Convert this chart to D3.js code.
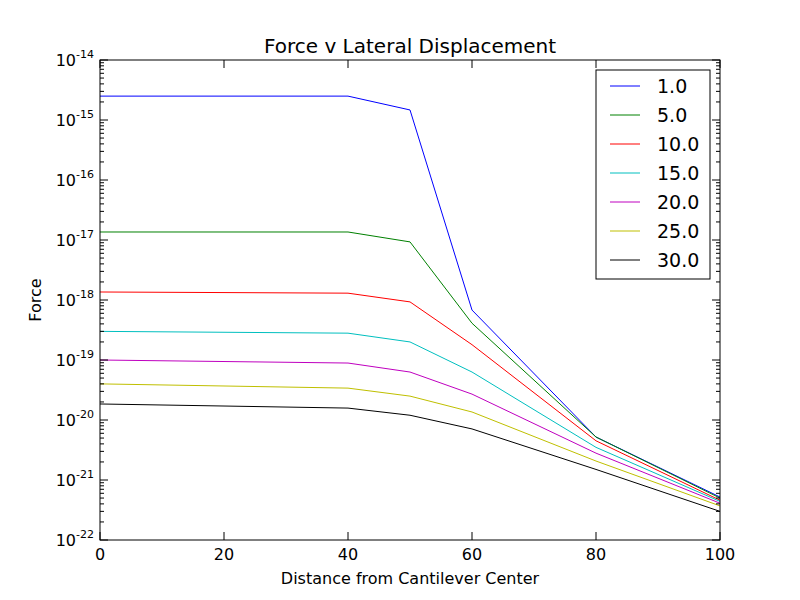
<!DOCTYPE html>
<html><head><meta charset="utf-8">
<script src="https://cdn.jsdelivr.net/npm/d3@7"></script>
<style>body{margin:0;background:#fff}text{font-family:"DejaVu Sans",sans-serif}</style>
</head><body><svg id="c" width="800" height="600"></svg>
<script>
const xs=[0,40,50,60,80,100];
const labels=["1.0","5.0","10.0","15.0","20.0","25.0","30.0"];
const colors=["#0000ff","#008000","#ff0000","#00bfbf","#bf00bf","#bfbf00","#000000"];
const s1=[2.5e-15,2.5e-15,1.47e-15,6.8e-19,5.2e-21,5.2e-22];
const s5=[1.36e-17,1.36e-17,9.3e-18,4.1e-19,5.2e-21,5.0e-22];
const s10=[1.36e-18,1.3e-18,9.3e-19,1.8e-19,4.5e-21,4.6e-22];
const s15=[3.0e-19,2.8e-19,2.0e-19,6.3e-20,3.5e-21,4.4e-22];
const s20=[1.0e-19,8.9e-20,6.3e-20,2.7e-20,2.8e-21,4.1e-22];
const s25=[4.0e-20,3.4e-20,2.5e-20,1.36e-20,2.07e-21,3.7e-22];
const s30=[1.85e-20,1.58e-20,1.2e-20,7.1e-21,1.5e-21,3.0e-22];
const series=[s1,s5,s10,s15,s20,s25,s30];
const xTicks=[0,20,40,60,80,100];
const yExp=[-22,-21,-20,-19,-18,-17,-16,-15,-14];

const svg=d3.select("#c");
const L=100,R=720,T=60,B=540;
const x=d3.scaleLinear().domain([0,100]).range([L,R]);
const y=d3.scaleLog().domain([1e-22,1e-14]).range([B,T]);
const g=svg.append("g");
const line=d3.line().x((d,i)=>x(xs[i])).y(d=>y(d));
series.forEach((s,k)=>g.append("path").attr("d",line(s)).attr("fill","none").attr("stroke",colors[k]).attr("stroke-width",1));
xTicks.forEach(t=>{
  g.append("line").attr("x1",x(t)).attr("x2",x(t)).attr("y1",B).attr("y2",B-8).attr("stroke","#000");
  g.append("line").attr("x1",x(t)).attr("x2",x(t)).attr("y1",T).attr("y2",T+8).attr("stroke","#000");
  g.append("text").attr("x",x(t)).attr("y",B+20).attr("text-anchor","middle").attr("font-size",16).text(t);
});
yExp.forEach(e=>{
  const yy=y(Math.pow(10,e));
  g.append("line").attr("x1",L).attr("x2",L+8).attr("y1",yy).attr("y2",yy).attr("stroke","#000");
  g.append("line").attr("x1",R).attr("x2",R-8).attr("y1",yy).attr("y2",yy).attr("stroke","#000");
  const t=g.append("text").attr("x",L-6).attr("y",yy+6).attr("text-anchor","end").attr("font-size",16);
  t.append("tspan").text("10");
  t.append("tspan").attr("dy",-8).attr("font-size",11).text(e);
  if(e<-14) for(let m=2;m<10;m++){
    const ym=y(m*Math.pow(10,e));
    g.append("line").attr("x1",L).attr("x2",L+4).attr("y1",ym).attr("y2",ym).attr("stroke","#000");
    g.append("line").attr("x1",R).attr("x2",R-4).attr("y1",ym).attr("y2",ym).attr("stroke","#000");
  }
});
g.append("rect").attr("x",L).attr("y",T).attr("width",R-L).attr("height",B-T).attr("fill","none").attr("stroke","#000");
svg.append("text").attr("x",410).attr("y",53).attr("text-anchor","middle").attr("font-size",20).text("Force v Lateral Displacement");
svg.append("text").attr("x",410).attr("y",584).attr("text-anchor","middle").attr("font-size",16).text("Distance from Cantilever Center");
svg.append("text").attr("transform","translate(41,300) rotate(-90)").attr("text-anchor","middle").attr("font-size",16).text("Force");
const lg=svg.append("g");
lg.append("rect").attr("x",596).attr("y",70).attr("width",114).attr("height",209).attr("fill","#fff").attr("stroke","#000");
labels.forEach((l,i)=>{
  const yy=86+i*29;
  lg.append("line").attr("x1",610).attr("x2",640).attr("y1",yy).attr("y2",yy).attr("stroke",colors[i]);
  lg.append("text").attr("x",657).attr("y",yy+7).attr("font-size",19).text(l);
});
</script></body></html>
